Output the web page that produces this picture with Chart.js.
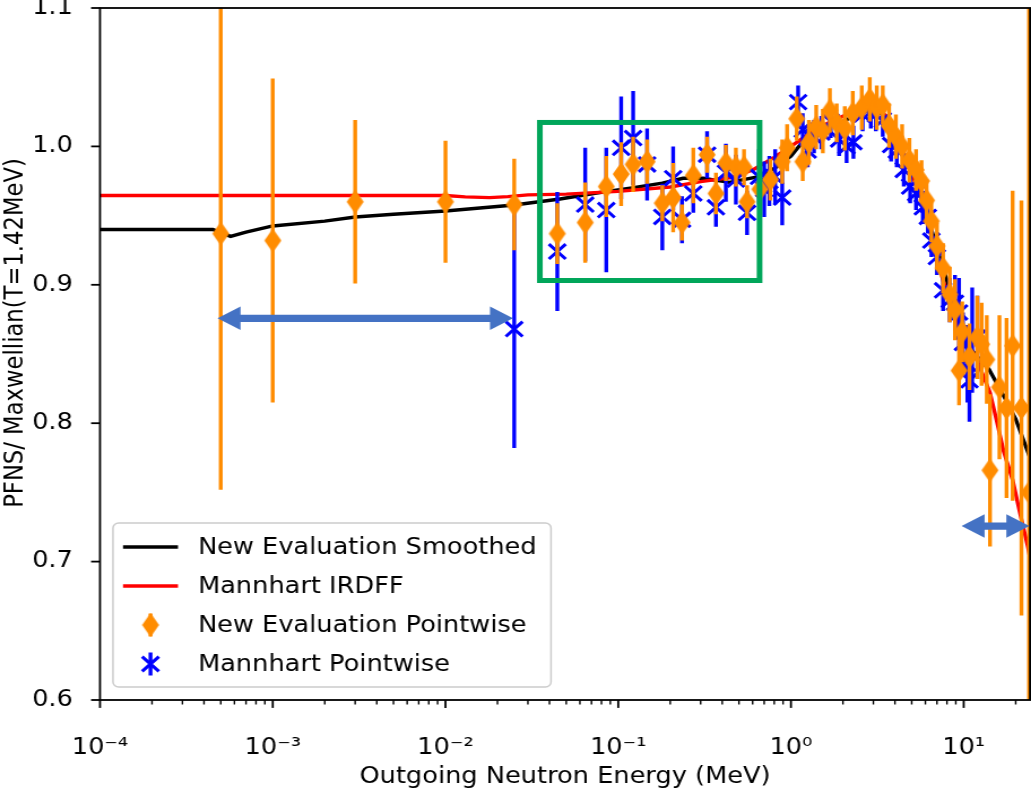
<!DOCTYPE html>
<html>
<head>
<meta charset="utf-8">
<script src="https://cdn.jsdelivr.net/npm/chart.js@4.4.1/dist/chart.umd.min.js"></script>
<style>
  html, body { margin: 0; padding: 0; background: #fff; }
</style>
</head>
<body>
<canvas id="myChart" width="912" height="793" style="width:1031px;height:793px;display:block"></canvas>
<script>
// the original figure was stretched sideways, so draw narrower and let css stretch it
const SX = 1031 / 912;

// axes
const xMin = 1e-4, xMax = 24.2;
const xDecades = [1e-4, 1e-3, 1e-2, 1e-1, 1, 10];
const yTicks = [0.6, 0.7, 0.8, 0.9, 1.0, 1.1];

// New Evaluation Smoothed (black)
const smoothE = [1e-4, 3e-4, 4.5e-4, 5.7e-4, 7e-4, 1e-3, 2e-3, 3e-3, 5e-3, 1e-2, 2.5e-2, 0.046, 0.075, 0.12, 0.18, 0.237, 0.31, 0.44, 0.64, 0.8, 1.0, 1.2, 1.5, 2.0, 2.5, 3.0, 3.5, 4.0, 4.5, 5.0, 5.5, 6.0, 6.5, 7.0, 8.0, 9.0, 9.5, 10, 12, 14, 17, 20, 24.2];
const smoothR = [0.940, 0.940, 0.940, 0.935, 0.938, 0.9425, 0.946, 0.949, 0.951, 0.9533, 0.9577, 0.962, 0.9663, 0.970, 0.9735, 0.977, 0.977, 0.974, 0.978, 0.984, 0.993, 1.005, 1.012, 1.018, 1.024, 1.027, 1.022, 1.008, 0.995, 0.982, 0.968, 0.955, 0.940, 0.927, 0.903, 0.878, 0.866, 0.860, 0.848, 0.839, 0.820, 0.803, 0.775];

// Mannhart IRDFF (red)
const irdffE = [1e-4, 1e-2, 1.3e-2, 1.8e-2, 2.3e-2, 3e-2, 0.05, 0.1, 0.2, 0.3, 0.45, 0.6, 0.8, 1.0, 1.3, 1.7, 2.2, 2.8, 3.3, 3.8, 4.3, 4.75, 5.3, 5.8, 6.5, 7.6, 9, 10, 11.9, 14.2, 15.5, 17, 19.2, 21, 23.5, 24.2];
const irdffR = [0.9645, 0.9645, 0.9635, 0.963, 0.9637, 0.965, 0.9655, 0.9675, 0.9707, 0.9745, 0.9775, 0.983, 0.992, 1.0, 1.01, 1.018, 1.024, 1.027, 1.026, 1.018, 1.002, 0.987, 0.972, 0.959, 0.935, 0.903, 0.875, 0.862, 0.846, 0.822, 0.802, 0.780, 0.759, 0.737, 0.711, 0.703];

// New Evaluation Pointwise (orange)
const evalE = [5e-4, 1e-3, 3e-3, 1e-2, 2.5e-2, 0.0444, 0.0644, 0.0853, 0.104, 0.122, 0.147, 0.180, 0.208, 0.234, 0.272, 0.327, 0.368, 0.42, 0.48, 0.535, 0.557, 0.66, 0.76, 0.89, 0.95, 1.08, 1.17, 1.27, 1.40, 1.53, 1.68, 1.84, 2.05, 2.28, 2.57, 2.86, 3.14, 3.40, 3.70, 4.05, 4.40, 4.85, 5.30, 5.70, 6.10, 6.50, 7.00, 7.60, 8.30, 8.90, 9.40, 9.80, 10.8, 12.0, 12.7, 13.6, 14.2, 16.1, 17.7, 19.2, 21.6, 23.9];
const evalR = [0.937, 0.932, 0.960, 0.960, 0.958, 0.937, 0.945, 0.971, 0.980, 0.987, 0.989, 0.959, 0.963, 0.945, 0.979, 0.994, 0.966, 0.988, 0.985, 0.985, 0.960, 0.969, 0.976, 0.989, 0.999, 1.020, 0.989, 1.003, 1.014, 1.011, 1.026, 1.017, 1.013, 1.024, 1.028, 1.034, 1.028, 1.030, 1.015, 1.007, 1.000, 0.990, 0.983, 0.975, 0.961, 0.946, 0.928, 0.912, 0.893, 0.882, 0.838, 0.866, 0.848, 0.862, 0.857, 0.846, 0.766, 0.826, 0.811, 0.856, 0.811, 0.750];
const evalErr = [0.185, 0.117, 0.059, 0.044, 0.033, 0.022, 0.029, 0.022, 0.023, 0.020, 0.016, 0.013, 0.025, 0.013, 0.020, 0.013, 0.015, 0.013, 0.014, 0.013, 0.012, 0.013, 0.015, 0.016, 0.017, 0.016, 0.014, 0.016, 0.016, 0.016, 0.016, 0.014, 0.016, 0.016, 0.016, 0.016, 0.016, 0.014, 0.016, 0.016, 0.016, 0.016, 0.015, 0.015, 0.015, 0.015, 0.017, 0.018, 0.020, 0.022, 0.025, 0.022, 0.024, 0.030, 0.030, 0.032, 0.055, 0.052, 0.065, 0.112, 0.150, 0.400];

// Mannhart Pointwise (blue)
const mannE = [0.025, 0.0444, 0.0644, 0.0853, 0.104, 0.122, 0.147, 0.180, 0.208, 0.234, 0.272, 0.327, 0.368, 0.42, 0.48, 0.557, 0.653, 0.70, 0.75, 0.81, 0.89, 1.10, 1.17, 1.25, 1.36, 1.50, 1.70, 1.90, 2.10, 2.30, 2.60, 2.90, 3.10, 3.40, 3.80, 4.10, 4.50, 4.90, 5.30, 5.80, 6.20, 6.50, 7.00, 7.60, 8.30, 8.90, 9.40, 9.90, 10.5, 10.8, 11.2, 12.0];
const mannR = [0.868, 0.924, 0.958, 0.954, 0.999, 1.006, 0.987, 0.949, 0.977, 0.947, 0.966, 0.994, 0.956, 0.981, 0.976, 0.952, 0.978, 0.969, 0.975, 0.978, 0.963, 1.032, 1.012, 0.997, 1.007, 1.010, 1.018, 1.005, 1.000, 1.003, 1.023, 1.025, 1.023, 1.019, 1.001, 0.997, 0.983, 0.971, 0.966, 0.956, 0.949, 0.932, 0.920, 0.896, 0.889, 0.887, 0.880, 0.858, 0.843, 0.831, 0.860, 0.862];
const mannErr = [0.086, 0.043, 0.041, 0.045, 0.037, 0.034, 0.026, 0.024, 0.023, 0.017, 0.014, 0.017, 0.014, 0.021, 0.018, 0.016, 0.020, 0.020, 0.018, 0.020, 0.020, 0.012, 0.012, 0.012, 0.012, 0.012, 0.012, 0.012, 0.012, 0.012, 0.012, 0.012, 0.012, 0.012, 0.012, 0.012, 0.012, 0.012, 0.012, 0.012, 0.012, 0.012, 0.013, 0.015, 0.016, 0.020, 0.025, 0.022, 0.028, 0.030, 0.038, 0.030];

// hand drawn marks on top of the figure (data coordinates)
const boxX = [0.0352, 0.658], boxY = [0.9031, 1.0173];
const arrowA = [4.79e-4, 0.0246, 0.8758];
const arrowB = [9.72, 24.0, 0.7257];

const FONT = '"DejaVu Sans", sans-serif';
const supMap = {'-': '\u207B', '0': '\u2070', '1': '\u00B9', '2': '\u00B2', '3': '\u00B3', '4': '\u2074'};
const yTitle = 'PFNS/ Maxwellian(T=1.42MeV)';

function pts(xs, ys) { return xs.map((v, i) => ({x: v, y: ys[i]})); }

function thinDiamond(w, h, color) {
  const c = document.createElement('canvas');
  c.width = Math.ceil(w) + 2; c.height = Math.ceil(h) + 2;
  const g = c.getContext('2d');
  const cx = c.width / 2, cy = c.height / 2;
  g.fillStyle = color;
  g.beginPath();
  g.moveTo(cx, cy - h / 2); g.lineTo(cx + w / 2, cy); g.lineTo(cx, cy + h / 2); g.lineTo(cx - w / 2, cy);
  g.closePath(); g.fill();
  return c;
}
const diamond = thinDiamond(15, 24, '#ff8c00');

// error bars under each dataset's own markers
const errorBars = {
  id: 'errorBars',
  beforeDatasetDraw(chart, args) {
    const ds = chart.data.datasets[args.index];
    if (!ds.errors) return;
    const {ctx, chartArea: a, scales: {x, y}} = chart;
    ctx.save();
    ctx.beginPath(); ctx.rect(a.left, a.top, a.right - a.left, a.bottom - a.top); ctx.clip();
    ctx.strokeStyle = ds.barColor; ctx.lineWidth = 3.4;
    ds.data.forEach((p, i) => {
      const px = x.getPixelForValue(p.x);
      ctx.beginPath();
      ctx.moveTo(px, y.getPixelForValue(p.y - ds.errors[i]));
      ctx.lineTo(px, y.getPixelForValue(p.y + ds.errors[i]));
      ctx.stroke();
    });
    ctx.restore();
  }
};

// matplotlib-like box, tick marks and rotated y label
const frame = {
  id: 'frame',
  afterDatasetsDraw(chart) {
    const {ctx, chartArea: a, scales: {x, y}} = chart;
    ctx.save();
    ctx.strokeStyle = '#000';
    ctx.lineWidth = 1.8;
    ctx.strokeRect(a.left, a.top, a.right - a.left, a.bottom - a.top);
    xDecades.forEach(d => {
      for (let k = 1; k <= 9; k++) {
        const v = d * k;
        if (v < xMin || v > xMax) continue;
        const px = x.getPixelForValue(v);
        ctx.lineWidth = k === 1 ? 1.8 : 1.4;
        ctx.beginPath(); ctx.moveTo(px, a.bottom); ctx.lineTo(px, a.bottom + (k === 1 ? 7.9 : 4.5)); ctx.stroke();
      }
    });
    ctx.lineWidth = 1.8;
    yTicks.forEach(v => {
      const py = y.getPixelForValue(v);
      ctx.beginPath(); ctx.moveTo(a.left, py); ctx.lineTo(a.left - 7.9, py); ctx.stroke();
    });
    ctx.translate(14, 333);
    ctx.rotate(-Math.PI / 2);
    ctx.font = '22.7px ' + FONT;
    ctx.fillStyle = '#000';
    ctx.textAlign = 'center'; ctx.textBaseline = 'middle';
    ctx.fillText(yTitle, 0, 0);
    ctx.restore();
  }
};

function arrow(ctx, x1, x2, yy) {
  const hl = 23 / SX, hw = 11.7, sw = 3.6;
  ctx.beginPath();
  ctx.moveTo(x1, yy);
  ctx.lineTo(x1 + hl, yy - hw); ctx.lineTo(x1 + hl, yy - sw);
  ctx.lineTo(x2 - hl, yy - sw); ctx.lineTo(x2 - hl, yy - hw);
  ctx.lineTo(x2, yy);
  ctx.lineTo(x2 - hl, yy + hw); ctx.lineTo(x2 - hl, yy + sw);
  ctx.lineTo(x1 + hl, yy + sw); ctx.lineTo(x1 + hl, yy + hw);
  ctx.closePath(); ctx.fill();
}

const marks = {
  id: 'marks',
  afterDraw(chart) {
    const {ctx, scales: {x, y}} = chart;
    ctx.save();
    ctx.strokeStyle = '#00a65a'; ctx.lineWidth = 5;
    const l = x.getPixelForValue(boxX[0]), r = x.getPixelForValue(boxX[1]);
    const t = y.getPixelForValue(boxY[1]), b = y.getPixelForValue(boxY[0]);
    ctx.strokeRect(l, t, r - l, b - t);
    ctx.fillStyle = '#4472c4';
    [arrowA, arrowB].forEach(ar => arrow(ctx, x.getPixelForValue(ar[0]), x.getPixelForValue(ar[1]), y.getPixelForValue(ar[2])));
    ctx.restore();
  }
};

const legendBox = {
  id: 'legendBox',
  afterDraw(chart) {
    const ctx = chart.ctx;
    const x0 = 113 / SX, y0 = 523, w = 438 / SX, h = 164;
    const rows = [547, 586, 625, 664];
    const hx0 = 123 / SX, hx1 = 178 / SX, hc = (hx0 + hx1) / 2;
    ctx.save();
    ctx.fillStyle = 'rgba(255,255,255,0.8)';
    ctx.strokeStyle = '#cccccc'; ctx.lineWidth = 1.5;
    ctx.beginPath(); ctx.roundRect(x0, y0, w, h, 5); ctx.fill(); ctx.stroke();
    ctx.font = '22.7px ' + FONT; ctx.textBaseline = 'middle';
    chart.data.datasets.forEach((ds, i) => {
      const yy = rows[i];
      if (ds.showLine) {
        ctx.strokeStyle = ds.borderColor; ctx.lineWidth = 3.4;
        ctx.beginPath(); ctx.moveTo(hx0, yy); ctx.lineTo(hx1, yy); ctx.stroke();
      } else {
        ctx.strokeStyle = ds.barColor; ctx.lineWidth = 3.4;
        ctx.beginPath(); ctx.moveTo(hc, yy - 11.5); ctx.lineTo(hc, yy + 11.5); ctx.stroke();
        ctx.strokeStyle = ds.pointBorderColor; ctx.lineWidth = ds.pointBorderWidth;
        Chart.helpers.drawPoint(ctx, {pointStyle: ds.pointStyle, radius: ds.pointRadius, rotation: 0, borderWidth: ds.pointBorderWidth}, hc, yy);
      }
      ctx.fillStyle = '#000';
      ctx.fillText(ds.label, 198 / SX, yy + 1);
    });
    ctx.restore();
  }
};

const ctx = document.getElementById('myChart');

const myChart = new Chart(ctx, {
  type: 'scatter',
  data: {
    datasets: [{
      label: 'New Evaluation Smoothed',
      data: pts(smoothE, smoothR),
      showLine: true, borderColor: '#000000', borderWidth: 3.4, pointRadius: 0, order: 3
    }, {
      label: 'Mannhart IRDFF',
      data: pts(irdffE, irdffR),
      showLine: true, borderColor: '#ff0000', borderWidth: 3.4, pointRadius: 0, order: 2
    }, {
      label: 'New Evaluation Pointwise',
      data: pts(evalE, evalR),
      errors: evalErr, barColor: '#ff8c00',
      pointStyle: diamond, pointRadius: 10, pointBorderWidth: 0,
      pointBackgroundColor: '#ff8c00', pointBorderColor: '#ff8c00', order: 0
    }, {
      label: 'Mannhart Pointwise',
      data: pts(mannE, mannR),
      errors: mannErr, barColor: '#0000ff',
      pointStyle: 'crossRot', pointRadius: 10.5, pointBorderWidth: 3,
      pointBorderColor: '#0000ff', pointBackgroundColor: '#0000ff', order: 1
    }]
  },
  options: {
    responsive: false,
    devicePixelRatio: 1,
    animation: false,
    layout: { autoPadding: false, padding: { top: 8, right: 0.9, left: 0, bottom: 0 } },
    plugins: { legend: { display: false }, tooltip: { enabled: false } },
    scales: {
      x: {
        type: 'logarithmic',
        min: xMin, max: xMax,
        grid: { display: false },
        border: { display: false },
        afterBuildTicks: axis => { axis.ticks = xDecades.map(v => ({value: v})); },
        afterFit: axis => { axis.height = 93; axis.paddingLeft = 0; axis.paddingRight = 0; },
        ticks: {
          autoSkip: false, maxRotation: 0, padding: 26.4, color: '#000',
          font: { family: FONT, size: 22.7 },
          callback: v => {
            const e = Math.round(Math.log10(v));
            return '10' + String(e).split('').map(ch => supMap[ch]).join('');
          }
        },
        title: {
          display: true, text: 'Outgoing Neutron Energy (MeV)', color: '#000',
          font: { family: FONT, size: 22.7 }, padding: { top: 0, bottom: 2 }
        }
      },
      y: {
        min: 0.6, max: 1.1,
        grid: { display: false },
        border: { display: false },
        afterBuildTicks: axis => { axis.ticks = yTicks.map(v => ({value: v})); },
        afterFit: axis => { axis.width = 100 / SX; axis.paddingTop = 0; axis.paddingBottom = 0; },
        ticks: {
          padding: 16, color: '#000',
          font: { family: FONT, size: 22.7 },
          callback: v => v.toFixed(1)
        }
      }
    }
  },
  plugins: [errorBars, frame, marks, legendBox]
});
</script>
</body>
</html>
